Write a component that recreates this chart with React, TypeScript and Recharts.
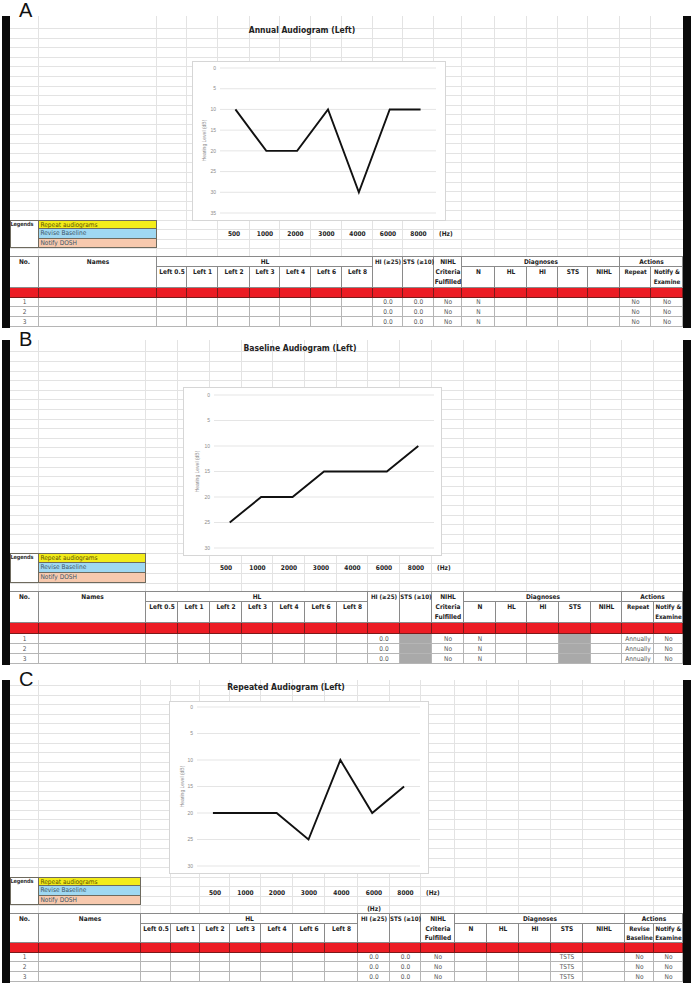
import React from "react";
import { LineChart, Line, XAxis, YAxis, CartesianGrid } from "recharts";

const freqs = ["500", "1000", "2000", "3000", "4000", "6000", "8000"];
const annualLeft = [10, 20, 20, 10, 30, 10, 10];
const baselineLeft = [25, 20, 20, 15, 15, 15, 10];
const repeatedLeft = [20, 20, 20, 25, 10, 20, 15];
const ticks35 = [0, 5, 10, 15, 20, 25, 30, 35];
const ticks30 = [0, 5, 10, 15, 20, 25, 30];
const hlCols = ["Left 0.5", "Left 1", "Left 2", "Left 3", "Left 4", "Left 6", "Left 8"];
const diagCols = ["N", "HL", "HI", "STS", "NIHL"];
const legendItems = ["Repeat audiograms", "Revise Baseline", "Notify DOSH"];
const legendColors = ["#f3ec1a", "#9fd8f2", "#f7c9ae"];
const rowNos = ["1", "2", "3"];

const SHEET_FONT = '"Liberation Sans Narrow", "DejaVu Sans Condensed", "Roboto Condensed", "Arial Narrow", Arial, sans-serif';
const GRID = "#e3e3e3";
const HEAD_LINE = "#8a8a8a";
const ROW_LINE = "#b5b5b5";

type ChartCfg = {
  left: number; top: number; w: number; h: number;
  plotLeft: number; mr: number; mt: number; mb: number;
  ticks: number[]; labelX: number;
};

type RowCfg = {
  hi: string; sts: string | null; nihl: string;
  diag: (string | null)[]; act: string[];
};

type PanelCfg = {
  letter: string; letterTop: number; barTop: number; barBottom: number;
  title: string; titleX: number; titleY: number;
  edges: number[]; chart: ChartCfg; values: number[];
  legendTop: number; legendRowH: number; freqY: number;
  rows: number[]; actionHeads: string[][]; row: RowCfg; extraHz?: boolean;
};

const Audiogram: React.FC<{ cfg: ChartCfg; values: number[] }> = ({ cfg, values }) => {
  const data = freqs.map((f, i) => ({ freq: f, hl: values[i] }));
  const plotW = cfg.w - cfg.plotLeft - cfg.mr;
  const half = plotW / freqs.length / 2;
  const max = cfg.ticks[cfg.ticks.length - 1];
  return (
    <div style={{ position: "absolute", left: cfg.left, top: cfg.top, width: cfg.w, height: cfg.h, background: "#fff", outline: "1px solid #d6d6d6" }}>
      <LineChart width={cfg.w} height={cfg.h} data={data} margin={{ top: cfg.mt, right: cfg.mr, bottom: cfg.mb, left: 0 }}>
        <CartesianGrid vertical={false} stroke="#dedede" strokeWidth={0.8} />
        <XAxis dataKey="freq" hide padding={{ left: half, right: half }} />
        <YAxis
          reversed
          domain={[0, max]}
          ticks={cfg.ticks}
          interval={0}
          width={cfg.plotLeft}
          axisLine={false}
          tickLine={false}
          tickSize={0}
          tickMargin={4}
          tick={{ fontSize: 5, fill: "#8c8c8c", fontFamily: "Arial, sans-serif" }}
          label={{
            value: "Hearing Level (dB)",
            angle: -90,
            position: "insideLeft",
            offset: cfg.labelX,
            style: { textAnchor: "middle", fontSize: 5, fill: "#8c8c8c", fontFamily: "Arial, sans-serif" },
          }}
        />
        <Line type="linear" dataKey="hl" stroke="#111" strokeWidth={1.9} dot={false} isAnimationActive={false} />
      </LineChart>
    </div>
  );
};

const Txt: React.FC<{ x0: number; x1: number; y0: number; y1: number; text: string; bold?: boolean; color?: string; size?: number }> = ({ x0, x1, y0, y1, text, bold, color, size }) => (
  <div
    style={{
      position: "absolute", left: x0, top: y0, width: x1 - x0, height: y1 - y0,
      display: "flex", alignItems: "center", justifyContent: "center",
      fontSize: size ?? 6.5, lineHeight: 1, fontWeight: bold ? 700 : 400,
      color: color ?? (bold ? "#222" : "#555"), fontFamily: SHEET_FONT, whiteSpace: "nowrap",
    }}
  >
    {text}
  </div>
);

const Box: React.FC<{ x0: number; x1: number; y0: number; y1: number; line: string; bg?: string }> = ({ x0, x1, y0, y1, line, bg }) => (
  <div
    style={{
      position: "absolute", left: x0, top: y0, width: x1 - x0, height: y1 - y0,
      boxSizing: "border-box", borderRight: `1px solid ${line}`, borderBottom: `1px solid ${line}`,
      background: bg ?? "#fff",
    }}
  />
);

const Panel: React.FC<{ p: PanelCfg }> = ({ p }) => {
  const e = p.edges;
  const r = p.rows;
  const tableTop = r[0];
  const step = 9.6;
  const gridYs: number[] = [];
  for (let y = p.legendTop; y > p.barTop + 4; y -= step) gridYs.push(y);
  for (let y = p.legendTop + p.legendRowH; y < tableTop - 2; y += p.legendRowH) gridYs.push(y);

  const cells: React.ReactNode[] = [];
  // header boxes
  cells.push(<Box key="h0" x0={e[0]} x1={e[1]} y0={r[0]} y1={r[3]} line={HEAD_LINE} />);
  cells.push(<Box key="h1" x0={e[1]} x1={e[2]} y0={r[0]} y1={r[3]} line={HEAD_LINE} />);
  cells.push(<Box key="hl" x0={e[2]} x1={e[9]} y0={r[0]} y1={r[1]} line={HEAD_LINE} />);
  hlCols.forEach((_, i) => cells.push(<Box key={"hlc" + i} x0={e[2 + i]} x1={e[3 + i]} y0={r[1]} y1={r[3]} line={HEAD_LINE} />));
  [9, 10, 11].forEach((c) => cells.push(<Box key={"hs" + c} x0={e[c]} x1={e[c + 1]} y0={r[0]} y1={r[3]} line={HEAD_LINE} />));
  cells.push(<Box key="dg" x0={e[12]} x1={e[17]} y0={r[0]} y1={r[1]} line={HEAD_LINE} />);
  diagCols.forEach((_, i) => cells.push(<Box key={"dgc" + i} x0={e[12 + i]} x1={e[13 + i]} y0={r[1]} y1={r[3]} line={HEAD_LINE} />));
  cells.push(<Box key="ac" x0={e[17]} x1={e[19]} y0={r[0]} y1={r[1]} line={HEAD_LINE} />);
  [17, 18].forEach((c) => cells.push(<Box key={"acc" + c} x0={e[c]} x1={e[c + 1]} y0={r[1]} y1={r[3]} line={HEAD_LINE} />));
  // red row + data rows
  for (let c = 0; c < 19; c++) {
    cells.push(<Box key={"red" + c} x0={e[c]} x1={e[c + 1]} y0={r[3]} y1={r[4]} line="#7a1a1a" bg="#ec1c24" />);
    for (let k = 0; k < 3; k++) {
      let bg = "#fff";
      if ((c === 10 && p.row.sts === null) || (c >= 12 && c <= 16 && p.row.diag[c - 12] === null)) bg = "#a9a9a9";
      cells.push(<Box key={`d${c}-${k}`} x0={e[c]} x1={e[c + 1]} y0={r[4 + k]} y1={r[5 + k]} line={ROW_LINE} bg={bg} />);
    }
  }

  const texts: React.ReactNode[] = [];
  const line = (i: number) => [r[i], r[i + 1]];
  texts.push(<Txt key="t0" x0={e[0]} x1={e[1]} y0={line(0)[0]} y1={line(0)[1]} text="No." bold />);
  texts.push(<Txt key="t1" x0={e[1]} x1={e[2]} y0={line(0)[0]} y1={line(0)[1]} text="Names" bold />);
  texts.push(<Txt key="t2" x0={e[2]} x1={e[9]} y0={line(0)[0]} y1={line(0)[1]} text="HL" bold />);
  hlCols.forEach((h, i) => texts.push(<Txt key={"th" + i} x0={e[2 + i]} x1={e[3 + i]} y0={line(1)[0]} y1={line(1)[1]} text={h} bold />));
  texts.push(<Txt key="t9" x0={e[9]} x1={e[10]} y0={line(0)[0]} y1={line(0)[1]} text="HI (≥25)" bold size={6.2} />);
  texts.push(<Txt key="t10" x0={e[10]} x1={e[11]} y0={line(0)[0]} y1={line(0)[1]} text="STS (≥10)" bold size={6.2} />);
  ["NIHL", "Criteria", "Fulfilled"].forEach((t, i) => texts.push(<Txt key={"tn" + i} x0={e[11]} x1={e[12]} y0={line(i)[0]} y1={line(i)[1]} text={t} bold />));
  texts.push(<Txt key="tdg" x0={e[12]} x1={e[17]} y0={line(0)[0]} y1={line(0)[1]} text="Diagnoses" bold />);
  diagCols.forEach((d, i) => texts.push(<Txt key={"td" + i} x0={e[12 + i]} x1={e[13 + i]} y0={line(1)[0]} y1={line(1)[1]} text={d} bold />));
  texts.push(<Txt key="tac" x0={e[17]} x1={e[19]} y0={line(0)[0]} y1={line(0)[1]} text="Actions" bold />);
  p.actionHeads.forEach((hs, j) =>
    hs.forEach((t, i) => texts.push(<Txt key={`ta${j}-${i}`} x0={e[17 + j]} x1={e[18 + j]} y0={line(1 + i)[0]} y1={line(1 + i)[1]} text={t} bold size={6.2} />))
  );
  rowNos.forEach((n, k) => {
    const y0 = r[4 + k], y1 = r[5 + k];
    texts.push(<Txt key={"rn" + k} x0={e[0]} x1={e[1]} y0={y0} y1={y1} text={n} />);
    texts.push(<Txt key={"rhi" + k} x0={e[9]} x1={e[10]} y0={y0} y1={y1} text={p.row.hi} />);
    if (p.row.sts) texts.push(<Txt key={"rst" + k} x0={e[10]} x1={e[11]} y0={y0} y1={y1} text={p.row.sts} />);
    texts.push(<Txt key={"rni" + k} x0={e[11]} x1={e[12]} y0={y0} y1={y1} text={p.row.nihl} />);
    p.row.diag.forEach((d, i) => {
      if (d) texts.push(<Txt key={`rd${k}-${i}`} x0={e[12 + i]} x1={e[13 + i]} y0={y0} y1={y1} text={d} />);
    });
    p.row.act.forEach((a, i) => texts.push(<Txt key={`ra${k}-${i}`} x0={e[17 + i]} x1={e[18 + i]} y0={y0} y1={y1} text={a} />));
  });

  const lg = p.legendTop;
  const lh = p.legendRowH;

  return (
    <>
      {/* sheet background grid */}
      <div style={{ position: "absolute", left: 10, top: p.barTop, width: 673, height: tableTop - p.barTop, background: "#fff" }} />
      {gridYs.map((y, i) => (
        <div key={"gy" + i} style={{ position: "absolute", left: 10, top: Math.round(y), width: 673, height: 1, background: GRID }} />
      ))}
      {e.slice(1, 19).map((x, i) => (
        <div key={"gx" + i} style={{ position: "absolute", left: x - 1, top: p.barTop, width: 1, height: tableTop - p.barTop, background: GRID }} />
      ))}
      {/* side bars */}
      <div style={{ position: "absolute", left: 2, top: p.barTop, width: 8, height: p.barBottom - p.barTop, background: "#0a0a0a" }} />
      <div style={{ position: "absolute", left: 683, top: p.barTop, width: 8, height: p.barBottom - p.barTop, background: "#0a0a0a" }} />
      <div style={{ position: "absolute", left: 19, top: p.letterTop, fontSize: 20, lineHeight: 1, fontFamily: "Arial, Liberation Sans, sans-serif", color: "#111" }}>{p.letter}</div>
      <div style={{ position: "absolute", left: p.titleX, top: p.titleY, transform: "translate(-50%, -50%)", fontSize: 8.5, fontWeight: 700, fontFamily: SHEET_FONT, color: "#222", whiteSpace: "nowrap" }}>
        {p.title}
      </div>
      <Audiogram cfg={p.chart} values={p.values} />
      {/* legends */}
      <div style={{ position: "absolute", left: 10, top: lg, width: e[2] - 10, height: lh * 3, background: "#fff", boxSizing: "border-box", border: "1px solid #6e6a5e" }} />
      <div style={{ position: "absolute", left: 10.5, top: lg + 1.5, fontSize: 5.6, fontWeight: 700, lineHeight: 1, fontFamily: SHEET_FONT, color: "#333", letterSpacing: -0.15 }}>Legends</div>
      {legendItems.map((t, i) => (
        <div
          key={"lg" + i}
          style={{
            position: "absolute", left: e[1] - 1, top: lg + i * lh, width: e[2] - e[1] + 1, height: lh,
            boxSizing: "border-box", border: "1px solid #6e6a5e", borderTopWidth: i === 0 ? 1 : 0,
            background: legendColors[i], fontSize: 6.5, lineHeight: `${lh - 1}px`, paddingLeft: 1.5,
            fontFamily: SHEET_FONT, color: i === 0 ? "#5b5200" : "#3c5566", whiteSpace: "nowrap",
          }}
        >
          {t}
        </div>
      ))}
      {freqs.map((f, i) => (
        <Txt key={"fq" + i} x0={e[4 + i]} x1={e[5 + i]} y0={p.freqY - 5} y1={p.freqY + 5} text={f} bold />
      ))}
      <div style={{ position: "absolute", left: e[11] + 5, top: p.freqY - 4, fontSize: 6.5, fontWeight: 700, lineHeight: "8px", fontFamily: SHEET_FONT, color: "#222" }}>(Hz)</div>
      {p.extraHz && <Txt x0={e[9]} x1={e[10]} y0={tableTop - 9} y1={tableTop} text="(Hz)" bold />}
      {/* table */}
      <div style={{ position: "absolute", left: 10, top: tableTop - 1, width: 673, height: 1, background: HEAD_LINE }} />
      {cells}
      {texts}
    </>
  );
};

const panels: PanelCfg[] = [
  {
    letter: "A", letterTop: 0, barTop: 16, barBottom: 328,
    title: "Annual Audiogram (Left)", titleX: 302, titleY: 30,
    edges: [10, 39, 157, 187, 218, 250, 280, 311, 342, 373, 403, 434, 462, 495, 527, 558, 588, 620, 651, 683],
    chart: { left: 193, top: 62, w: 252, h: 158, plotLeft: 27, mr: 9, mt: 6, mb: 7, ticks: ticks35, labelX: 11 },
    values: annualLeft,
    legendTop: 220, legendRowH: 9.4, freqY: 234,
    rows: [257, 267, 277, 288, 298, 307, 317, 327],
    actionHeads: [["Repeat"], ["Notify &", "Examine"]],
    row: { hi: "0.0", sts: "0.0", nihl: "No", diag: ["N", "", "", "", ""], act: ["No", "No"] },
  },
  {
    letter: "B", letterTop: 329, barTop: 340, barBottom: 665,
    title: "Baseline Audiogram (Left)", titleX: 300, titleY: 348,
    edges: [10, 39, 146, 178, 210, 242, 273, 305, 337, 368, 400, 432, 464, 496, 527, 559, 591, 622, 654, 683],
    chart: { left: 184, top: 388, w: 257, h: 167, plotLeft: 30, mr: 7, mt: 7, mb: 7, ticks: ticks30, labelX: 13 },
    values: baselineLeft,
    legendTop: 553, legendRowH: 10, freqY: 568,
    rows: [592, 602, 612, 623, 634, 644, 654, 664],
    actionHeads: [["Repeat"], ["Notify &", "Examine"]],
    row: { hi: "0.0", sts: null, nihl: "No", diag: ["N", "", "", null, ""], act: ["Annually", "No"] },
  },
  {
    letter: "C", letterTop: 669, barTop: 680, barBottom: 983,
    title: "Repeated Audiogram (Left)", titleX: 286, titleY: 687,
    edges: [10, 39, 141, 171, 200, 230, 261, 293, 325, 358, 390, 421, 455, 487, 519, 551, 583, 625, 654, 683],
    chart: { left: 170, top: 702, w: 258, h: 171, plotLeft: 27, mr: 8, mt: 5, mb: 7, ticks: ticks30, labelX: 12 },
    values: repeatedLeft,
    legendTop: 877, legendRowH: 9.4, freqY: 893,
    rows: [914, 924, 934, 943, 953, 962, 972, 982],
    actionHeads: [["Revise", "Baseline"], ["Notify &", "Examine"]],
    row: { hi: "0.0", sts: "0.0", nihl: "No", diag: ["", "", "", "TSTS", ""], act: ["No", "No"] },
    extraHz: true,
  },
];

export default function App() {
  return (
    <div style={{ position: "absolute", left: 0, top: 0, width: 692, height: 983, background: "#fff", overflow: "hidden" }}>
      {panels.map((p) => (
        <Panel key={p.letter} p={p} />
      ))}
    </div>
  );
}
